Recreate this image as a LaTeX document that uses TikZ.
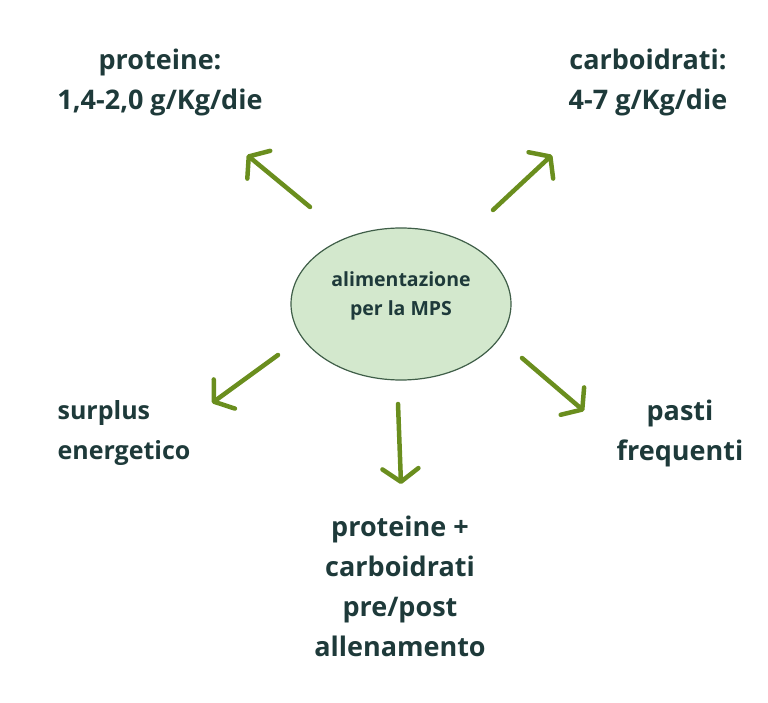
\documentclass[tikz,border=0pt]{standalone}
\usepackage{fontspec}
\setmainfont{Open Sans}[UprightFont=* Bold]
\usetikzlibrary{arrows.meta}
\definecolor{txt}{HTML}{1E3A3A}
\definecolor{arr}{HTML}{6A8E1E}
\definecolor{ellfill}{HTML}{D3E8CD}
\definecolor{elldraw}{HTML}{3F5E48}
\tikzset{
  lbl/.style={text=txt, font=\fontsize{27}{40}\selectfont, align=center, inner sep=0pt},
  conn/.style={draw=arr, line width=4.5pt, line cap=round, line join=round,
    -{Straight Barb[length=13pt, width=36pt, line cap=round, line join=round]}},
}
\begin{document}
\begin{tikzpicture}[x=1pt,y=-1pt]
\useasboundingbox (0,0) rectangle (768,703);
\draw[fill=ellfill, draw=elldraw, line width=1.2pt] (401,304) ellipse [x radius=110, y radius=76];
\node[text=txt, font=\fontsize{19.5}{29}\selectfont, align=center, inner sep=0pt] (c) at (401,296) {alimentazione\\per la MPS};
\node[lbl] (p) at (160,82) {proteine:\\1,4-2,0 g/Kg/die};
\node[lbl] (k) at (648,82) {carboidrati:\\4-7 g/Kg/die};
\node[lbl, align=left, font=\fontsize{25}{40}\selectfont] (s) at (124,433) {surplus\\energetico};
\node[lbl] (f) at (680,433) {pasti\\frequenti};
\node[lbl] (b) at (400,586) {proteine +\\carboidrati\\pre/post\\allenamento};
\coordinate (a1s) at (310,207); \coordinate (a1e) at (247,155);
\coordinate (a2s) at (493,210); \coordinate (a2e) at (552,155);
\coordinate (a3s) at (278,355); \coordinate (a3e) at (212,403);
\coordinate (a4s) at (398,404); \coordinate (a4e) at (401,484);
\coordinate (a5s) at (522,358); \coordinate (a5e) at (584,411);
\draw[conn] (a1s) -- (a1e);
\draw[conn] (a2s) -- (a2e);
\draw[conn] (a3s) -- (a3e);
\draw[conn] (a4s) -- (a4e);
\draw[conn] (a5s) -- (a5e);
\end{tikzpicture}
\end{document}
